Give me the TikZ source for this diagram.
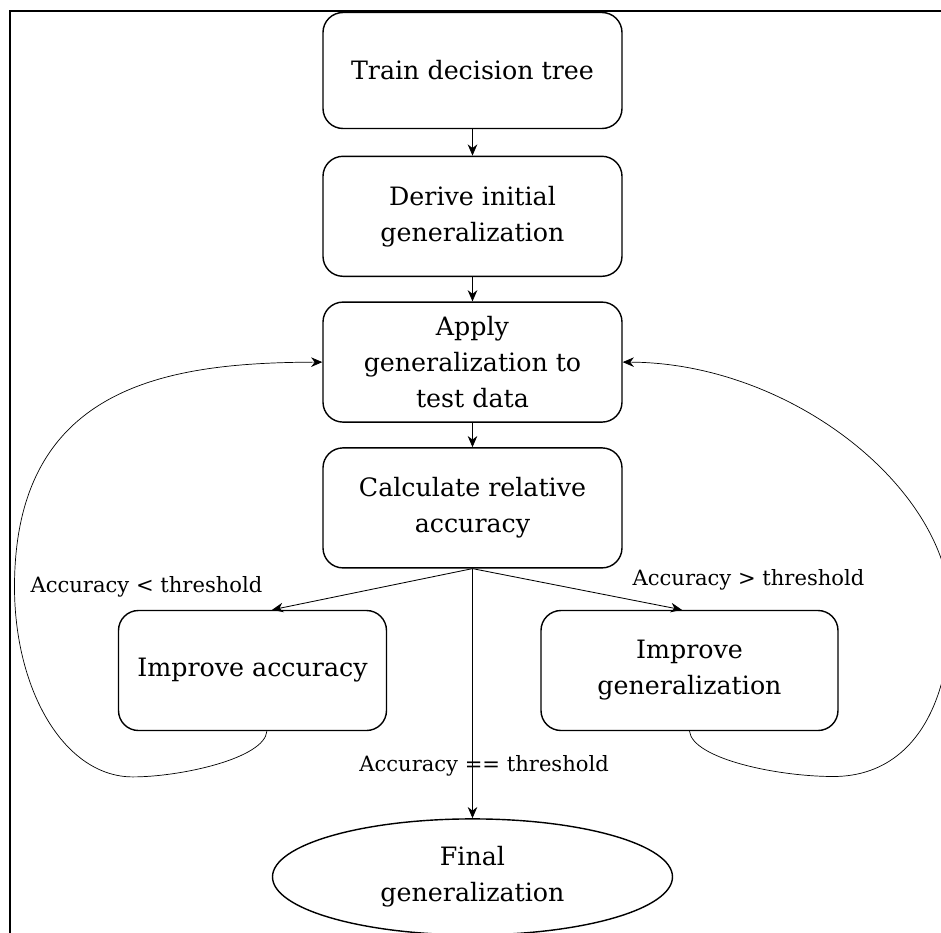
\documentclass[tikz,border=0pt]{standalone}
\usepackage{fontspec}
\setmainfont{DejaVu Serif}
\usetikzlibrary{positioning,shapes.geometric,arrows.meta}

\newcommand{\boxfont}{\fontsize{18}{25.5}\selectfont}
\newcommand{\condfont}{\fontsize{15}{18}\selectfont}

\tikzstyle{rect} = [rectangle, rounded corners=0.5cm, minimum width=7.475cm, minimum height=3cm, text centered, draw=black, line width=1pt, align=center, font=\boxfont]
\tikzstyle{oval} = [ellipse, minimum width=10cm, minimum height=2.9cm, inner sep=0pt, draw=black, line width=1pt, align=center, font=\boxfont]
\tikzstyle{arrow} = [line width=0.6pt,->,>={Stealth[length=2.8mm,width=2.4mm]}]
\tikzstyle{feedback} = [line width=0.5pt,->,>={Stealth[length=2.8mm,width=2.4mm]}]
\tikzstyle{cond} = [font=\condfont]

\begin{document}
\begin{tikzpicture}[node distance=3.645cm]

\useasboundingbox (-11.8125,-21.5625) rectangle (11.7125,1.7625);

\draw[line width=0.8pt] (-11.5625,-21.5625) -- (-11.5625,1.4875) -- (11.7125,1.4875);

\node (train) [rect, minimum height=2.9cm] {Train decision tree};

\node (derive) [rect, below of = train] {Derive initial\\generalization};

\node (apply) [rect, below of = derive] {Apply\\generalization to\\test data};

\node (calc) [rect, below of = apply] {Calculate relative\\accuracy};

\node (improveacc) [rect, below of = calc, xshift=-5.5cm, yshift=-0.42cm, minimum width=6.7cm] {Improve accuracy};

\node (improvegen) [rect, below of = calc, xshift=5.425cm, yshift=-0.42cm, minimum width=7.425cm] {Improve\\generalization};

\node (final) [oval, below of = calc, yshift=-5.58cm] {Final\\generalization};

\node (lessthan) [cond, above of = improveacc, xshift=-2.65cm, yshift=-1.56cm] {Accuracy < threshold};

\node (morethan) [cond, above of = improvegen, xshift=1.475cm, yshift=-1.385cm] {Accuracy > threshold};

\draw[arrow] (train) -- (derive);

\draw[arrow] (derive) -- (apply);

\draw[arrow] (apply) -- (calc);

\draw[arrow] (calc.south) -- ([xshift=0.49cm]improveacc.north);

\draw[arrow] (calc.south) -- ([xshift=-0.19cm]improvegen.north);

\draw[arrow] (calc) -- node[cond, pos=0.79, xshift=0.29cm] {Accuracy == threshold} (final);

\draw[feedback] ([xshift=0.36cm]improveacc.south) .. controls (-5.2,-17.2) and (-7.3,-17.66) .. (-8.49,-17.66) .. controls (-10.2,-17.66) and (-11.45,-15.5) .. (-11.45,-12.91) .. controls (-11.45,-7.8) and (-7.5,-7.305) .. (apply.west);

\draw[feedback] (improvegen.south) .. controls (5.5,-17.2) and (7.6,-17.65) .. (9.02,-17.65) .. controls (10.9,-17.65) and (11.95,-16.0) .. (11.95,-13.5) .. controls (11.95,-10.5) and (8.0,-7.305) .. (apply.east);

\end{tikzpicture}
\end{document}
